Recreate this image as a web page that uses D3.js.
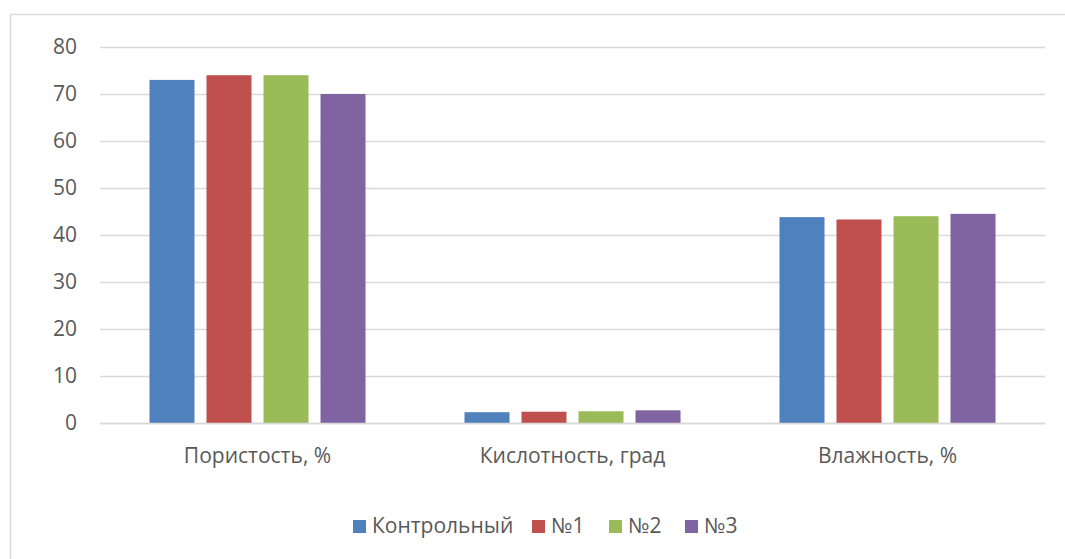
<!DOCTYPE html>
<html>
<head>
<meta charset="utf-8">
<script src="https://cdn.jsdelivr.net/npm/d3@7"></script>
<style>
  html, body { margin: 0; padding: 0; background: #fff; }
  svg { display: block; }
  text { font-family: "Open Sans", sans-serif; fill: #595959; }
</style>
</head>
<body>
<svg id="chart" width="1065" height="559"></svg>
<script>
// Soil properties by variant
const categories = ["Пористость, %", "Кислотность, град", "Влажность, %"];
const seriesNames = ["Контрольный", "№1", "№2", "№3"];
const seriesColors = ["#4F81BD", "#C0504D", "#9BBB59", "#8064A2"];
const control = [73, 2.3, 43.8];
const variant1 = [74, 2.4, 43.3];
const variant2 = [74, 2.5, 44.0];
const variant3 = [70, 2.7, 44.5];
const yTicks = [0, 10, 20, 30, 40, 50, 60, 70, 80];

const seriesValues = [control, variant1, variant2, variant3];
const fontSize = "21px";

const svg = d3.select("#chart");

// outer chart frame
svg.append("rect")
  .attr("x", 10.5).attr("y", 14.5)
  .attr("width", 1070).attr("height", 560)
  .attr("fill", "none").attr("stroke", "#d9d9d9").attr("stroke-width", 1.5);

const plot = { left: 100, right: 1045, top: 47, bottom: 423 };

const y = d3.scaleLinear().domain([0, 80]).range([plot.bottom, plot.top]);
const x0 = d3.scaleBand().domain(categories).range([plot.left, plot.right]).padding(0);
const x1 = d3.scaleBand().domain(seriesNames).range([0, x0.bandwidth()])
  .paddingInner(12 / 57).paddingOuter(0.868);

// horizontal gridlines
const yAxis = d3.axisLeft(y).tickValues(yTicks)
  .tickSize(-(plot.right - plot.left)).tickPadding(23).tickFormat(d3.format("d"));
const gy = svg.append("g").attr("transform", `translate(${plot.left},0)`).call(yAxis);
gy.select(".domain").remove();
gy.selectAll(".tick line").attr("stroke", "#d9d9d9").attr("stroke-width", 1.3);
gy.selectAll(".tick text").style("font-size", fontSize).attr("fill", "#595959");

// bars
const groups = svg.append("g").selectAll("g")
  .data(categories)
  .join("g")
  .attr("transform", d => `translate(${x0(d)},0)`);

groups.selectAll("rect")
  .data((c, ci) => seriesNames.map((s, si) => ({ s, si, v: seriesValues[si][ci] })))
  .join("rect")
  .attr("x", d => x1(d.s))
  .attr("width", x1.bandwidth())
  .attr("y", d => y(d.v))
  .attr("height", d => y(0) - y(d.v))
  .attr("fill", d => seriesColors[d.si]);

// category labels
const xAxis = d3.axisBottom(x0).tickSize(0).tickPadding(25);
const gx = svg.append("g").attr("transform", `translate(0,${plot.bottom})`).call(xAxis);
gx.select(".domain").attr("stroke", "#d9d9d9").attr("stroke-width", 1.3);
gx.selectAll(".tick text").style("font-size", fontSize).attr("fill", "#595959");

// legend
const legendX = [353, 532, 609, 685];
const legend = svg.append("g");
seriesNames.forEach((name, i) => {
  const g = legend.append("g").attr("transform", `translate(${legendX[i]},520)`);
  g.append("rect").attr("width", 13).attr("height", 13).attr("fill", seriesColors[i]);
  g.append("text").attr("x", 19).attr("y", 13).style("font-size", fontSize).text(name);
});
</script>
</body>
</html>
